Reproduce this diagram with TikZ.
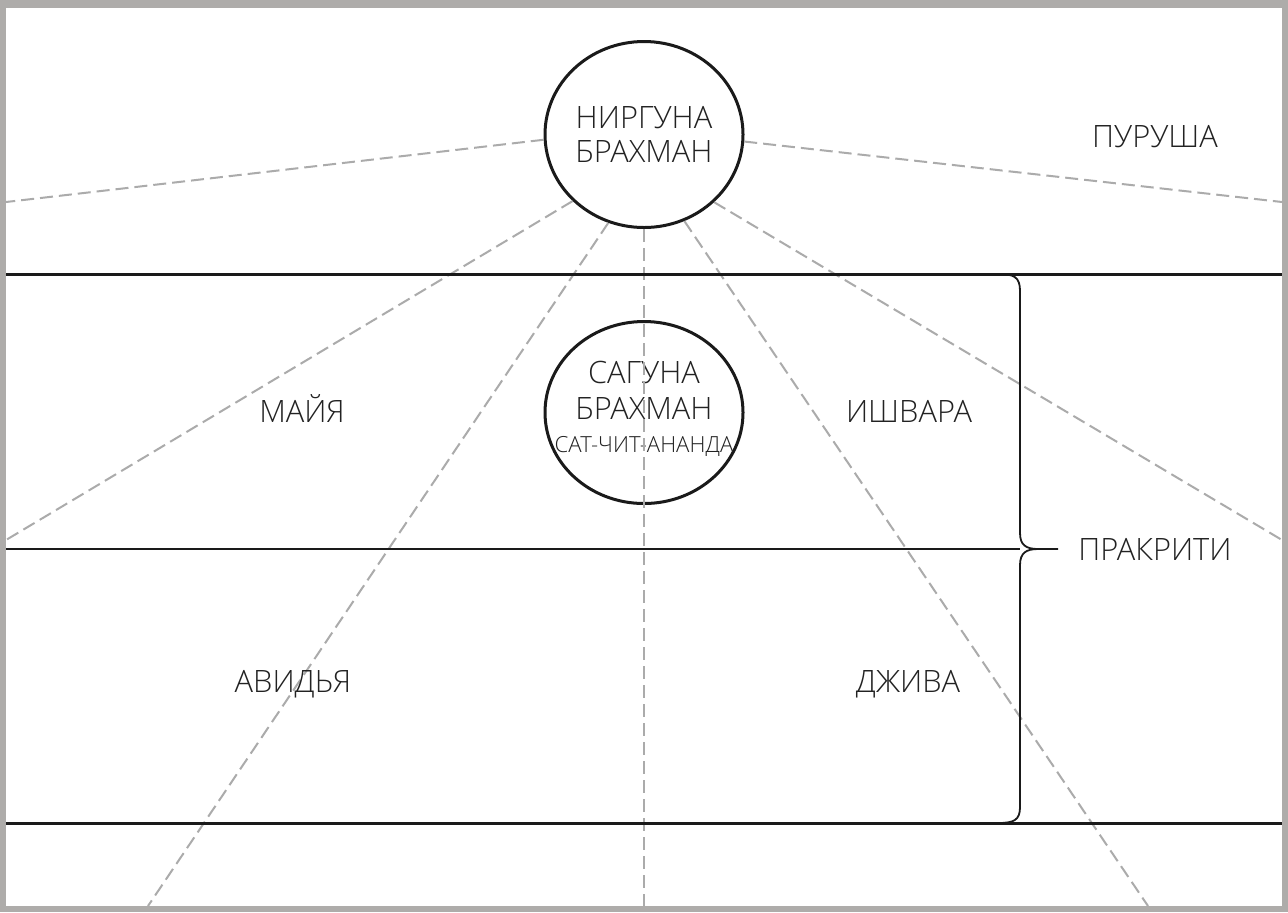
\documentclass[tikz,border=0pt]{standalone}
\usepackage{fontspec}
\setmainfont{Open Sans Light}
\usetikzlibrary{positioning,shapes.geometric,decorations.pathreplacing}
\definecolor{frameGray}{HTML}{AEACAA}
\definecolor{rayGray}{HTML}{ABABAB}
\definecolor{inkDark}{HTML}{1A1A1A}
\definecolor{textDark}{HTML}{222222}

\begin{document}
\begin{tikzpicture}[
    x=0.5pt, y=-0.5pt,
    brahman/.style={ellipse, draw=inkDark, line width=1.5pt, inner xsep=-30pt, inner ysep=-15pt,
        align=center, text=textDark, font=\fontsize{15.4}{17}\selectfont},
    tag/.style={text=textDark, font=\fontsize{15.4}{17}\selectfont, anchor=base},
    ray/.style={draw=rayGray, line width=1pt, dash pattern=on 6.5pt off 3pt},
    level/.style={draw=inkDark, line width=1.5pt}
]
    \useasboundingbox (0,0) rectangle (1288,912);
    \fill[frameGray] (0,0) rectangle (1288,912);
    \fill[white] (6,8) rectangle (1282,906);

    \node[brahman, minimum width=99pt, minimum height=93pt] (nirguna) at (644,134.5) {НИРГУНА\\БРАХМАН};
    \node[brahman, minimum width=99pt, minimum height=91pt] (saguna) at (644,412.5)
        {САГУНА\\[1pt]БРАХМАН\\[-0.5pt]{\fontsize{11.1}{13}\selectfont САТ-ЧИТ-АНАНДА}\\[-11pt]\mbox{}};

    % rays from the upper circle
    \coordinate (rayW) at (6,202);
    \coordinate (rayE) at (1282,202);
    \coordinate (raySW) at (6,540);
    \coordinate (raySE) at (1282,540);
    \coordinate (rayBL) at (148,906);
    \coordinate (rayBM) at (644,906);
    \coordinate (rayBR) at (1148,906);
    \draw[ray] (nirguna.183.4) -- (rayW);
    \draw[ray] (nirguna.356.6) -- (rayE);
    \draw[ray] (nirguna.223.8) -- (raySW);
    \draw[ray] (nirguna.316.6) -- (raySE);
    \draw[ray] (nirguna.248.5) -- (rayBL);
    \draw[ray] (nirguna.270) -- (rayBM);
    \draw[ray] (nirguna.295) -- (rayBR);

    % levels
    \draw[level] (6,274) -- (1282,274);
    \draw[level, line width=1pt] (6,549) -- (1020,549);
    \draw[level] (6,823) -- (1282,823);

    \node[tag] (purusha) at (1155,147) {ПУРУША};
    \node[tag] (maya) at (302,422) {МАЙЯ};
    \node[tag] (ishvara) at (909,422) {ИШВАРА};
    \node[tag] (avidya) at (293,692) {АВИДЬЯ};
    \node[tag] (jiva) at (908,692) {ДЖИВА};

    % brace for the two lower levels
    \coordinate (braceTip) at (1038,549);
    \draw[inkDark, line width=0.9pt] (998,274) .. controls (1014,274) and (1020,277) .. (1020,291)
        -- (1020,533) .. controls (1020,545) and (1026,549) .. (braceTip)
        .. controls (1026,549) and (1020,553) .. (1020,565)
        -- (1020,807) .. controls (1020,820) and (1014,823) .. (998,823);
    \node[tag, anchor=base west, inner xsep=10pt] (prakriti) at (1058,560) {ПРАКРИТИ};
    \draw[inkDark, line width=0.9pt] (braceTip) -- (prakriti.west);
\end{tikzpicture}
\end{document}
